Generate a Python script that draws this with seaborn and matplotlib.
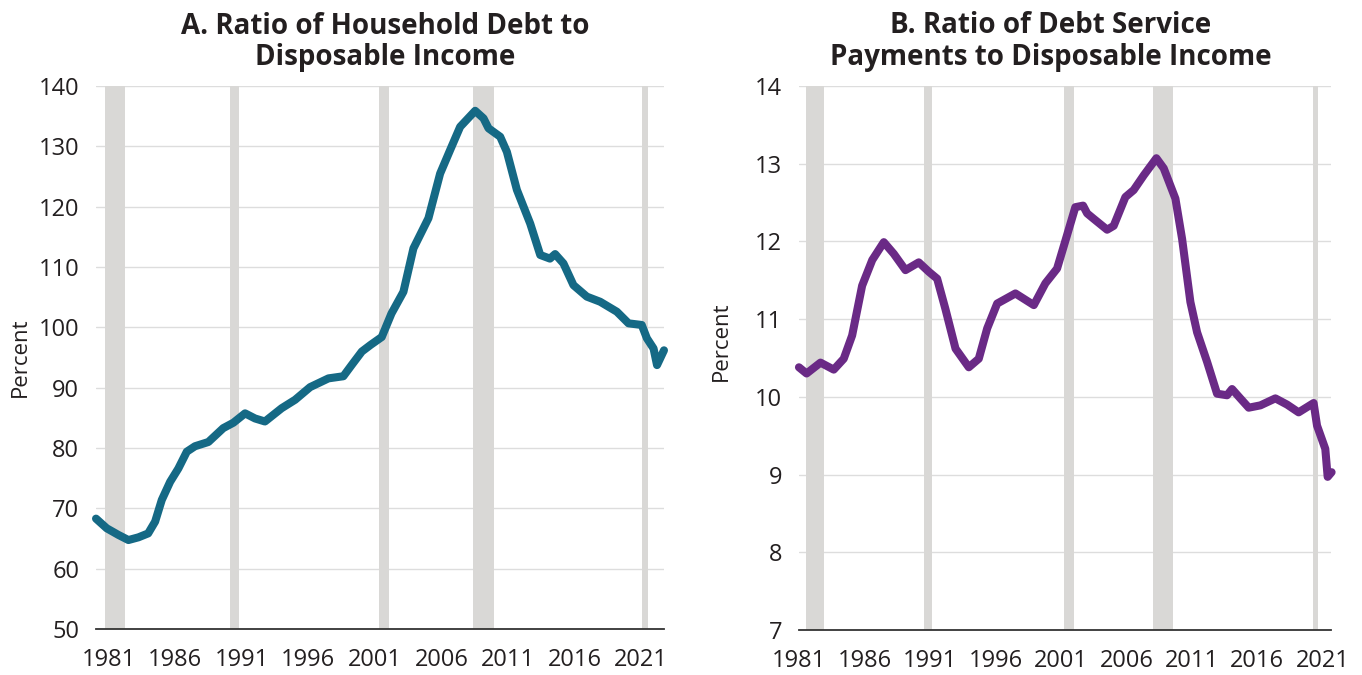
import numpy as np
import pandas as pd
import matplotlib
matplotlib.use("Agg")
import matplotlib.pyplot as plt
import seaborn as sns

# household debt / disposable income (percent)
debt_years = [1980.85, 1981.62, 1982.46, 1983.18, 1983.9, 1984.6, 1985.1, 1985.58,
              1986.18, 1986.77, 1987.38, 1987.97, 1988.93, 1990.0, 1990.73, 1991.57,
              1992.29, 1993.0, 1994.2, 1995.17, 1996.25, 1997.57, 1998.64, 1999.25,
              1999.97, 2000.6, 2001.4, 2002.1, 2002.96, 2003.68, 2004.76, 2005.6,
              2006.32, 2007.04, 2008.12, 2008.72, 2009.08, 2009.92, 2010.4, 2011.12,
              2012.08, 2012.8, 2013.5, 2013.87, 2014.47, 2015.19, 2016.15, 2017.11,
              2018.31, 2019.15, 2020.1, 2020.47, 2020.95, 2021.2, 2021.7]
debt_ratio = [68.3, 66.7, 65.6, 64.75, 65.2, 65.85, 67.8, 71.4,
              74.4, 76.6, 79.4, 80.3, 81.0, 83.3, 84.2, 85.75,
              84.9, 84.4, 86.6, 88.0, 90.1, 91.55, 91.9, 93.8,
              96.0, 97.1, 98.4, 102.3, 105.9, 113.1, 118.1, 125.5,
              129.4, 133.25, 135.9, 134.65, 133.0, 131.6, 129.1, 122.8,
              117.2, 112.0, 111.4, 112.15, 110.6, 107.0, 105.1, 104.25,
              102.6, 100.67, 100.4, 98.2, 96.5, 93.75, 96.2]

# debt service payments / disposable income (percent)
dsr_years = [1981.0, 1981.58, 1982.64, 1983.65, 1984.41, 1985.05, 1985.81, 1986.58,
             1987.46, 1988.22, 1989.11, 1990.12, 1990.88, 1991.52, 1992.15, 1992.92,
             1993.93, 1994.69, 1995.33, 1996.09, 1997.48, 1998.88, 1999.76, 2000.65,
             2001.41, 2002.04, 2002.63, 2002.94, 2003.44, 2004.46, 2004.96, 2005.85,
             2006.48, 2007.25, 2008.21, 2008.77, 2009.66, 2010.17, 2010.8, 2011.31,
             2012.07, 2012.83, 2013.59, 2013.97, 2014.6, 2015.24, 2016.13, 2017.27,
             2018.16, 2019.04, 2020.18, 2020.44, 2021.07, 2021.25, 2021.55]
dsr_ratio = [10.38, 10.30, 10.44, 10.35, 10.49, 10.79, 11.43, 11.76,
             11.99, 11.84, 11.63, 11.73, 11.61, 11.52, 11.13, 10.62,
             10.38, 10.49, 10.88, 11.20, 11.33, 11.18, 11.46, 11.65,
             12.08, 12.44, 12.46, 12.36, 12.29, 12.15, 12.20, 12.57,
             12.66, 12.85, 13.07, 12.94, 12.55, 12.03, 11.22, 10.83,
             10.45, 10.04, 10.02, 10.10, 9.98, 9.86, 9.89, 9.98,
             9.90, 9.80, 9.92, 9.63, 9.33, 8.97, 9.03]

# recessions (shaded)
rec_start = [1981.5, 1990.5, 2001.2, 2007.95, 2020.1]
rec_end = [1982.9, 1991.15, 2001.95, 2009.5, 2020.55]

tick_labels = ["1981", "1986", "1991", "1996", "2001", "2006", "2011", "2016", "2021"]

sns.set_style("white")
plt.rcParams['font.family'] = ['Open Sans', 'DejaVu Sans']

fig = plt.figure(figsize=(13.62, 6.75), dpi=100)
ax1 = fig.add_axes([0.0705, 0.0681, 0.417, 0.8044])
ax2 = fig.add_axes([0.5866, 0.0667, 0.3906, 0.806])

df1 = pd.DataFrame({"year": debt_years, "ratio": debt_ratio})
df2 = pd.DataFrame({"year": dsr_years, "ratio": dsr_ratio})

panels = [
    (ax1, df1, "#156985", "A. Ratio of Household Debt to\nDisposable Income",
     (1980.85, 2021.7), (50, 140), np.arange(50, 141, 10),
     np.linspace(1981.75, 2020.06, 9), 0.509, (-0.115, 0.5)),
    (ax2, df2, "#6a2a86", "B. Ratio of Debt Service\nPayments to Disposable Income",
     (1981.0, 2021.5), (7, 14), np.arange(7, 15, 1),
     np.linspace(1981.02, 2020.87, 9), 0.474, (-0.126, 0.53)),
]

for ax, df, color, title, xlim, ylim, yticks, xticks, tx, lab in panels:
    for s, e in zip(rec_start, rec_end):
        ax.axvspan(s, e, color="#d9d8d6", lw=0, zorder=1)
    sns.lineplot(data=df, x="year", y="ratio", ax=ax, color=color, lw=5.8,
                 solid_capstyle="round", solid_joinstyle="round", zorder=3,
                 clip_on=False)
    ax.set_xlim(*xlim)
    ax.set_ylim(*ylim)
    ax.set_yticks(yticks)
    ax.set_xticks(xticks)
    ax.set_xticklabels(tick_labels)
    ax.grid(axis="y", color="#dddddd", lw=1.0, zorder=0)
    ax.grid(axis="x", visible=False)
    ax.set_axisbelow(True)
    for side in ["top", "left", "right"]:
        ax.spines[side].set_visible(False)
    ax.spines["bottom"].set_color("#333333")
    ax.spines["bottom"].set_linewidth(1.3)
    ax.spines["bottom"].set_zorder(4)
    ax.tick_params(axis="y", length=0, pad=12, labelsize=17, labelcolor="#231f20")
    ax.tick_params(axis="x", length=0, pad=14, labelsize=17, labelcolor="#231f20")
    ax.set_xlabel("")
    ax.set_ylabel("Percent", fontsize=16, color="#231f20")
    ax.yaxis.set_label_coords(*lab)
    ax.set_title(title, fontsize=20, fontweight="bold", color="#231f20",
                 pad=15, linespacing=1.12, x=tx)

fig.savefig("out.png", dpi=100)
